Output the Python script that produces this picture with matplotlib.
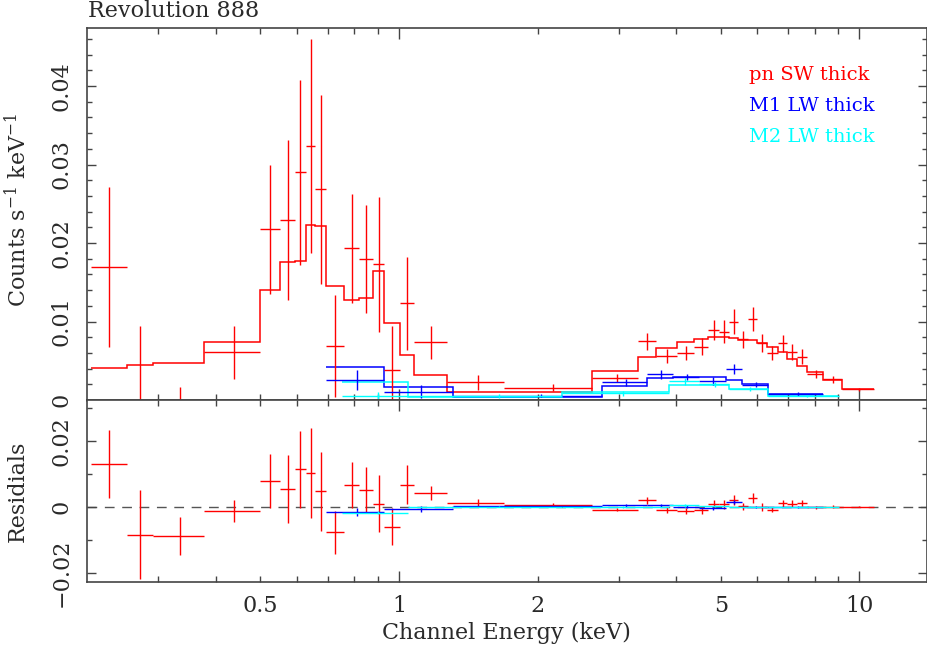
import numpy as np
import matplotlib
matplotlib.use('Agg')
import matplotlib.pyplot as plt
from matplotlib.ticker import FixedLocator, FuncFormatter

# ---------------- data (keV, counts/s/keV) ----------------
pn_edges = [0.214, 0.256, 0.2925, 0.377, 0.4995, 0.552, 0.593, 0.628, 0.658, 0.693,
            0.761, 0.820, 0.879, 0.929, 1.0065, 1.080, 1.269, 1.694, 2.630, 3.311,
            3.612, 4.012, 4.381, 4.699, 4.964, 5.219, 5.443, 5.740, 5.986, 6.293,
            6.647, 6.975, 7.333, 7.709, 8.353, 9.158, 10.78]
pn_rate = [0.01698, -0.0040, -0.0041, 0.00607, 0.02174, 0.02289, 0.0290, 0.03236, 0.02684,
           0.00684, 0.01932, 0.01796, 0.01728, 0.00378, 0.01231, 0.00735, 0.00225, 0.00157,
           0.00284, 0.00748, 0.00564, 0.00603, 0.00679, 0.00892, 0.0087, 0.00997, 0.00773,
           0.01028, 0.0073, 0.00595, 0.00722, 0.00615, 0.00552, 0.00331, 0.00264, 0.00136]
pn_err = [0.0102, 0.0134, 0.0057, 0.0034, 0.0082, 0.0102, 0.0118, 0.0136, 0.0120, 0.0065,
          0.0069, 0.0069, 0.0086, 0.0057, 0.0059, 0.0021, 0.00096, 0.00043, 0.00053, 0.0011,
          0.00092, 0.00089, 0.0011, 0.00123, 0.00145, 0.00157, 0.00108, 0.00155, 0.00117,
          0.00089, 0.00106, 0.0010, 0.00094, 0.00055, 0.00047, 0.00015]
pn_model = [0.00408, 0.00442, 0.00475, 0.00735, 0.01397, 0.01754, 0.01771, 0.02225, 0.02212,
            0.01452, 0.0127, 0.01295, 0.0164, 0.00977, 0.00569, 0.00315, 0.00098, 0.00098,
            0.00373, 0.00552, 0.00659, 0.00735, 0.00781, 0.00799, 0.00799, 0.00786, 0.00764,
            0.00764, 0.0073, 0.00679, 0.00615, 0.00522, 0.00433, 0.00353, 0.0026, 0.00136]

m1_edges = [0.693, 0.929, 1.308, 2.765, 3.452, 3.944, 4.492, 5.133, 5.553, 6.344, 8.353]
m1_rate = [0.00251, 0.00106, 0.00055, 0.00225, 0.00325, 0.00293, 0.00245, 0.00389, 0.00197, 0.00076]
m1_err = [0.00127, 0.00085, 0.00021, 0.00042, 0.00053, 0.00042, 0.0005, 0.00064, 0.00036, 0.00021]
m1_model = [0.00417, 0.00169, 0.00042, 0.00178, 0.0028, 0.00293, 0.00289, 0.00255, 0.002, 0.0008]

m2_edges = [0.751, 1.048, 2.257, 3.866, 4.492, 5.219, 6.344, 9.049]
m2_rate = [0.00045, 0.00048, 0.00087, 0.00236, 0.00201, 0.0014, 0.00051]
m2_err = [0.00053, 0.00027, 0.00032, 0.00042, 0.00032, 0.00022, 0.00013]
m2_model = [0.00225, 0.00042, 0.00098, 0.00187, 0.00187, 0.0014, 0.00047]

series = [
    ("pn SW thick", "#ff0000", pn_edges, pn_rate, pn_err, pn_model),
    ("M1 LW thick", "#0000ff", m1_edges, m1_rate, m1_err, m1_model),
    ("M2 LW thick", "#00ffff", m2_edges, m2_rate, m2_err, m2_model),
]

x_labels = {0.5: "0.5", 1: "1", 2: "2", 5: "5", 10: "10"}

# ---------------- style ----------------
plt.rcParams['font.family'] = ['DejaVu Serif']
plt.rcParams['mathtext.fontset'] = 'dejavuserif'
TXT = '#2a2a2a'
AXC = '#444444'
FS = 16

W, H = 928, 647
fig = plt.figure(figsize=(W / 100, H / 100), dpi=100)
L, R = 86.7, 926.7
ax1 = fig.add_axes([L / W, 1 - 400 / H, (R - L) / W, (400 - 27.7) / H])
ax2 = fig.add_axes([L / W, 1 - 582.3 / H, (R - L) / W, (582.3 - 400) / H], sharex=ax1)

for name, col, edges, rate, err, model in series:
    e = np.array(edges)
    lo, hi = e[:-1], e[1:]
    xc = (lo + hi) / 2
    y = np.array(rate)
    m = np.array(model)
    ey = np.array(err)
    ax1.errorbar(xc, y, xerr=[xc - lo, hi - xc], yerr=ey, fmt='none',
                 ecolor=col, elinewidth=1.0, capsize=0)
    ax1.stairs(m, e, color=col, lw=1.1, baseline=None)
    ax2.errorbar(xc, y - m, xerr=[xc - lo, hi - xc], yerr=ey, fmt='none',
                 ecolor=col, elinewidth=1.0, capsize=0)

ax2.axhline(0, color='#555555', lw=1.0, ls=(0, (7, 5.5)), zorder=0)

ax1.set_xscale('log')
ax1.set_xlim(0.2097, 14.0)
ax1.set_ylim(0, 0.04743)
ax2.set_ylim(-0.02288, 0.03233)

minor_x = [0.3, 0.4, 0.5, 0.6, 0.7, 0.8, 0.9, 2, 3, 4, 5, 6, 7, 8, 9]
for ax in (ax1, ax2):
    ax.xaxis.set_major_locator(FixedLocator([1, 10]))
    ax.xaxis.set_minor_locator(FixedLocator(minor_x))
    ax.xaxis.set_major_formatter(FuncFormatter(lambda v, p: x_labels.get(round(v, 3), '')))
    ax.xaxis.set_minor_formatter(FuncFormatter(lambda v, p: x_labels.get(round(v, 3), '')))
    ax.tick_params(which='both', direction='in', top=True, right=True, color=AXC,
                   labelsize=FS, labelcolor=TXT, width=1.0)
    ax.tick_params(axis='x', which='major', length=8, pad=9)
    ax.tick_params(axis='x', which='minor', length=4.3, pad=9)
    ax.tick_params(axis='y', which='major', length=6.5, pad=10, labelrotation=90)
    ax.tick_params(axis='y', which='minor', length=3.6)
    for s in ax.spines.values():
        s.set_color(AXC)
        s.set_linewidth(1.2)
ax1.spines['bottom'].set_linewidth(1.8)

def yfmt(v, p):
    if abs(v) < 1e-9:
        return '0'
    s = f'{abs(v):g}'
    return ('\u2212' + s) if v < 0 else s

ax1.yaxis.set_major_locator(FixedLocator([0, 0.01, 0.02, 0.03, 0.04]))
ax1.yaxis.set_minor_locator(FixedLocator(np.arange(0, 0.0475, 0.002)))
ax1.yaxis.set_major_formatter(FuncFormatter(yfmt))
ax1.tick_params(axis='x', which='both', labelbottom=False)

ax2.yaxis.set_major_locator(FixedLocator([-0.02, 0, 0.02]))
ax2.yaxis.set_minor_locator(FixedLocator([-0.01, 0.01, 0.03]))
ax2.yaxis.set_major_formatter(FuncFormatter(yfmt))

for ax in (ax1, ax2):
    for lbl in ax.get_yticklabels():
        lbl.set_va('center')

# texts
fig.text(88 / W, 1 - 17 / H, 'Revolution 888', fontsize=FS, color=TXT, va='baseline', ha='left')
fig.text(18 / W, 1 - 210 / H, 'Counts s$^{-1}$ keV$^{-1}$', fontsize=FS, color=TXT,
         rotation=90, ha='center', va='center')
fig.text(18 / W, 1 - 491 / H, 'Residials', fontsize=FS, color=TXT,
         rotation=90, ha='center', va='center')
fig.text(506.7 / W, 1 - 633 / H, 'Channel Energy (keV)', fontsize=FS, color=TXT,
         ha='center', va='center')

for i, (name, col, *_rest) in enumerate(series):
    ax1.text((749 - L) / (R - L), (400 - (75 + 31 * i)) / (400 - 27.7), name, color=col,
             fontsize=14, transform=ax1.transAxes, ha='left', va='center')

fig.savefig('out.png', dpi=100)
